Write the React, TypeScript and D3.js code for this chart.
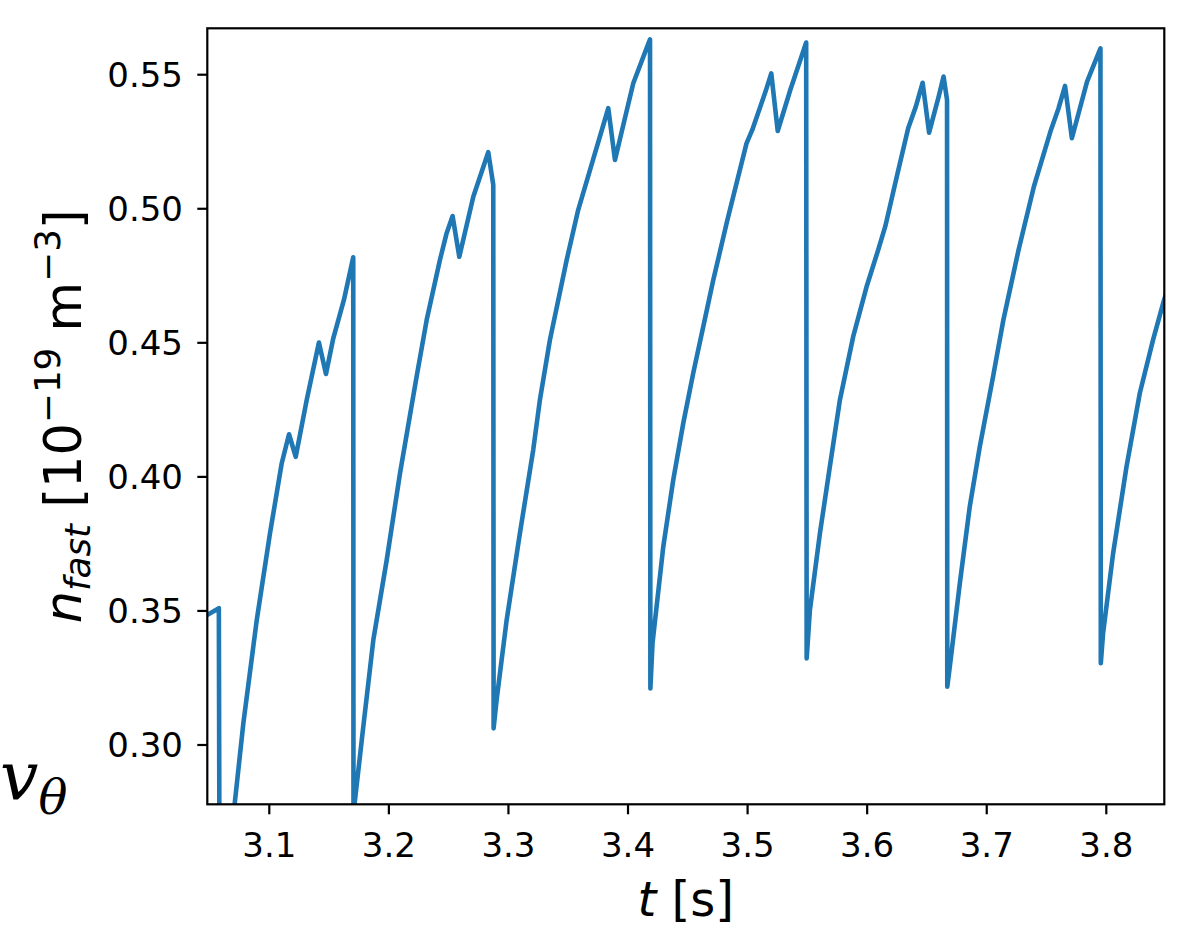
import React from 'react';
import * as d3 from 'd3';

// time [s]
const times = [
  3.040, 3.048, 3.0578, 3.0585, 3.0650, 3.0783, 3.0895, 3.1006, 3.1104, 3.1165,
  3.1221, 3.1313, 3.1415, 3.1474, 3.1535, 3.1624, 3.1702, 3.1704, 3.1786, 3.1870,
  3.1982, 3.2093, 3.2232, 3.2316, 3.2427, 3.2483, 3.2533, 3.2589, 3.2706, 3.2831,
  3.2873, 3.2876, 3.2901, 3.2985, 3.3096, 3.3207, 3.3263, 3.3347, 3.3487, 3.3583,
  3.3709, 3.3835, 3.3891, 3.3971, 3.4044, 3.4147, 3.4184, 3.4187, 3.4205, 3.4295,
  3.4378, 3.4462, 3.4545, 3.4629, 3.4713, 3.4831,
  3.4991, 3.5039, 3.5150, 3.5198, 3.5252, 3.5357, 3.5490, 3.5494, 3.5521, 3.5605,
  3.5688, 3.5772, 3.5883, 3.5995, 3.6092, 3.6152, 3.6248, 3.6343, 3.6407, 3.6464,
  3.6518, 3.6598, 3.6639, 3.6668, 3.6670, 3.6691, 3.6775, 3.6858, 3.6942, 3.7053,
  3.7139, 3.7266, 3.7394, 3.7537, 3.7600, 3.7655, 3.7712, 3.7839, 3.7951, 3.7954,
  3.7973, 3.8057, 3.8169, 3.8280, 3.8391, 3.8483, 3.8550,
];

// n_fast [1e-19 m^-3]
const nFast = [
  0.3470, 0.3485, 0.3510, 0.2250, 0.2530, 0.3081, 0.3466, 0.3790, 0.4051, 0.4159,
  0.4075, 0.4287, 0.4501, 0.4384, 0.4517, 0.4660, 0.4819, 0.2745, 0.3068, 0.3392,
  0.3690, 0.4013, 0.4374, 0.4585, 0.4809, 0.4909, 0.4973, 0.4821, 0.5045, 0.5211,
  0.5089, 0.3062, 0.3168, 0.3466, 0.3790, 0.4100, 0.4287, 0.4511, 0.4809, 0.4995,
  0.5185, 0.5375, 0.5182, 0.5332, 0.5468, 0.5589, 0.5632, 0.3211, 0.3380, 0.3740,
  0.3988, 0.4200, 0.4386, 0.4560, 0.4734, 0.4958,
  0.5244, 0.5294, 0.5437, 0.5505, 0.5290, 0.5443, 0.5620, 0.3323, 0.3503, 0.3790,
  0.4038, 0.4287, 0.4523, 0.4709, 0.4846, 0.4935, 0.5120, 0.5300, 0.5381, 0.5470,
  0.5284, 0.5418, 0.5493, 0.5406, 0.3217, 0.3292, 0.3603, 0.3889, 0.4113, 0.4374,
  0.4585, 0.4846, 0.5082, 0.5294, 0.5374, 0.5458, 0.5263, 0.5474, 0.5598, 0.3305,
  0.3417, 0.3715, 0.4038, 0.4312, 0.4511, 0.4660, 0.4750,
];

const xTicks = [3.1, 3.2, 3.3, 3.4, 3.5, 3.6, 3.7, 3.8];
const yTicks = [0.30, 0.35, 0.40, 0.45, 0.50, 0.55];
const xDomain = [3.04815, 3.8485];
const yDomain = [0.27788, 0.56731];

const W = 1197;
const H = 928;
const L = 207.3, R = 1164.3, T = 28.3, B = 804.3;
const FONT = 'DejaVu Sans';
const COLOR = '#1f77b4';

export default function App() {
  const x = d3.scaleLinear().domain(xDomain).range([L, R]);
  const y = d3.scaleLinear().domain(yDomain).range([B, T]);
  const pts = times.map((t, i) => [t, nFast[i]] as [number, number]);
  const line = d3.line<[number, number]>().x(d => x(d[0])).y(d => y(d[1]));

  return (
    <svg width={W} height={H} style={{ position: 'absolute', left: 0, top: 0, background: '#fff' }}
      fontFamily={FONT}>
      <rect x={0} y={0} width={W} height={H} fill="#fff" />
      <defs>
        <clipPath id="plotclip">
          <rect x={L} y={T} width={R - L} height={B - T} />
        </clipPath>
      </defs>
      <path d={line(pts) || ''} fill="none" stroke={COLOR} strokeWidth={4.6}
        strokeLinejoin="round" strokeLinecap="round" clipPath="url(#plotclip)" />
      <rect x={L} y={T} width={R - L} height={B - T} fill="none" stroke="#000" strokeWidth={2.2} />
      {xTicks.map(v => (
        <g key={'x' + v}>
          <line x1={x(v)} x2={x(v)} y1={B} y2={B + 10} stroke="#000" strokeWidth={2.2} />
          <text x={x(v)} y={857} textAnchor="middle" fontSize={34} fill="#000">{v.toFixed(1)}</text>
        </g>
      ))}
      {yTicks.map(v => (
        <g key={'y' + v}>
          <line x1={L - 10} x2={L} y1={y(v)} y2={y(v)} stroke="#000" strokeWidth={2.2} />
          <text x={183} y={y(v) + 12.4} textAnchor="end" fontSize={34} fill="#000">{v.toFixed(2)}</text>
        </g>
      ))}
      <text x={(L + R) / 2} y={916} textAnchor="middle" fontSize={48} fill="#000">
        <tspan fontStyle="italic">t</tspan><tspan> [s]</tspan>
      </text>
      <text transform={`translate(81,${(T + B) / 2}) rotate(-90)`} textAnchor="middle" fontSize={51} fill="#000">
        <tspan fontStyle="italic">n</tspan>
        <tspan fontStyle="italic" fontSize={35.7} dy={9}>fast</tspan>
        <tspan dy={-9}> [10</tspan>
        <tspan fontSize={35.7} dy={-21}>−19</tspan>
        <tspan dy={21}> m</tspan>
        <tspan fontSize={35.7} dy={-21}>−3</tspan>
        <tspan dy={21}>]</tspan>
      </text>
      <text x={0} y={800} fontFamily="DejaVu Serif" fontStyle="italic" fontSize={68} fill="#000">
        v<tspan fontSize={48} dy={14}>θ</tspan>
      </text>
    </svg>
  );
}
